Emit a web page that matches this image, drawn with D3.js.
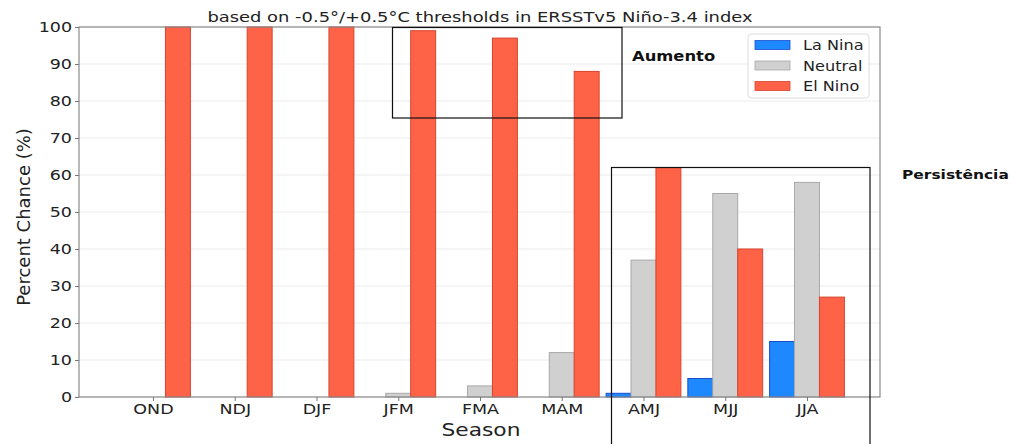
<!DOCTYPE html>
<html><head><meta charset="utf-8">
<script src="https://cdn.jsdelivr.net/npm/d3@7"></script>
<style>body{margin:0;background:#fff}svg{display:block}text{font-family:"DejaVu Sans",sans-serif}</style>
</head><body><svg id="c" width="1011" height="444"></svg>
<script>
const seasons = ["OND","NDJ","DJF","JFM","FMA","MAM","AMJ","MJJ","JJA"];
const laNina  = [0,0,0,0,0,0,1,5,15];
const neutral = [0,0,0,1,3,12,37,55,58];
const elNino  = [100,100,100,99,97,88,62,40,27];
const yTicks = [0,10,20,30,40,50,60,70,80,90,100];
const seriesNames = ["La Nina","Neutral","El Nino"];
const fills = ["#1E88FF","#D0D0D0","#FF6347"];
const strokes = ["#1A4FCC","#A8A8A8","#D8432E"];
const series = [laNina, neutral, elNino];

const svg = d3.select("#c");
const L=79, R=880, T=27, B=397;
const SX = 1.25;
const x = d3.scaleLinear().domain([-0.905, 8.893]).range([L,R]);
const y = d3.scaleLinear().domain([0,100]).range([B,T]);
const bw = x(0.305)-x(0);

function txt(parent, px, py, s, size, sx, opts={}) {
  const t = parent.append("text")
    .attr("transform",`translate(${px},${py}) scale(${sx},1)`)
    .attr("font-size",size).attr("fill",opts.fill||"#222")
    .attr("text-anchor",opts.anchor||"start")
    .attr("font-weight",opts.weight||"normal").text(s);
  return t;
}

// grid
svg.append("g").selectAll("line").data(yTicks).join("line")
  .attr("x1",L).attr("x2",R).attr("y1",d=>y(d)).attr("y2",d=>y(d))
  .attr("stroke","#ebebeb").attr("stroke-width",1);

// bars
series.forEach((s,k)=>{
  svg.append("g").selectAll("rect").data(s).join("rect")
    .attr("x",(d,i)=>x(i + (k-1)*0.305) - bw/2)
    .attr("width",bw)
    .attr("y",d=>y(d))
    .attr("height",d=>B-y(d))
    .attr("fill",fills[k])
    .attr("stroke",d=>d>0?strokes[k]:"none")
    .attr("stroke-width",1);
});

// frame
svg.append("rect").attr("x",L).attr("y",T).attr("width",R-L).attr("height",B-T)
  .attr("fill","none").attr("stroke","#8a8a8a").attr("stroke-width",1.2);

// axes
const xa = svg.append("g").attr("transform",`translate(0,${B})`)
  .call(d3.axisBottom(x).tickValues(d3.range(seasons.length)).tickFormat(i=>seasons[i]).tickSize(4).tickPadding(3));
const ya = svg.append("g").attr("transform",`translate(${L},0)`)
  .call(d3.axisLeft(y).tickValues(yTicks).tickSize(4).tickPadding(3));
[xa,ya].forEach(a=>{
  a.select(".domain").remove();
  a.selectAll("line").attr("stroke","#777");
  a.selectAll("text").attr("font-size",14).attr("fill","#222").attr("transform",`scale(${SX},1)`);
});
ya.selectAll("text").attr("x",-7/SX);

// labels
txt(svg, 480, 22, "based on -0.5°/+0.5°C thresholds in ERSSTv5 Niño-3.4 index", 14, 1.28, {anchor:"middle"});
txt(svg, 481, 436, "Season", 17, 1.28, {anchor:"middle"});
svg.append("text").attr("transform",`translate(30,217) rotate(-90)`)
  .attr("text-anchor","middle").attr("font-size",18).attr("fill","#222").text("Percent Chance (%)");

// legend
const lg = svg.append("g");
lg.append("rect").attr("x",748).attr("y",34).attr("width",121).attr("height",64).attr("rx",3)
  .attr("fill","#fff").attr("stroke","#dcdcdc");
seriesNames.forEach((n,k)=>{
  const cy = 45 + k*20.5;
  lg.append("rect").attr("x",755).attr("y",cy-4.5).attr("width",35).attr("height",9)
    .attr("fill",fills[k]).attr("stroke",strokes[k]).attr("stroke-width",0.8);
  txt(lg, 803, cy+5, n, 14, 1.15);
});

// annotation boxes
svg.append("rect").attr("x",392.5).attr("y",27.5).attr("width",229.5).attr("height",90.5)
  .attr("fill","none").attr("stroke","#111").attr("stroke-width",1.2);
txt(svg, 632, 61, "Aumento", 14, 1.17, {weight:"bold", fill:"#111"});
svg.append("rect").attr("x",611.5).attr("y",167.5).attr("width",258.5).attr("height",290)
  .attr("fill","none").attr("stroke","#111").attr("stroke-width",1.2);
txt(svg, 902, 179, "Persistência", 13, 1.19, {weight:"bold", fill:"#111"});
</script></body></html>
